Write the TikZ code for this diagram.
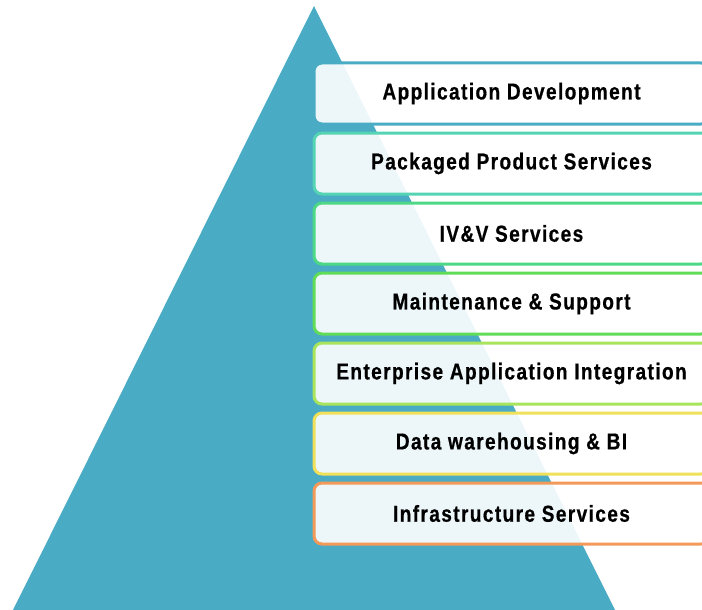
\documentclass[tikz,border=0pt]{standalone}
\usepackage{fontspec}
\usepackage{xcolor}
\usepackage{tikz}
\newfontfamily\layerfont{Liberation Sans}[FakeStretch=0.83, LetterSpace=6, FakeBold=0.6]
\definecolor{pyramid}{HTML}{4AABC5}
\definecolor{aquagreen}{HTML}{55D4B4}
\definecolor{leafgreen}{HTML}{4CD884}
\definecolor{lightgreen}{HTML}{60DC58}
\definecolor{limegreen}{HTML}{A8E45C}
\definecolor{sunyellow}{HTML}{F0E05A}
\definecolor{softorange}{HTML}{F39A5A}
\tikzset {
  % one layer of the stack
  layer/.style = {draw=#1, line width=3pt, rounded corners=8pt,
    fill=white, fill opacity=0.9, text opacity=1,
    minimum width=395pt, minimum height=61pt, inner sep=0pt,
    font=\layerfont\bfseries\fontsize{23}{26}\selectfont},
}

\begin{document}
\begin{tikzpicture}[x=1pt, y=-1pt]
        \useasboundingbox (0, 0) rectangle (702, 610);

        % the pyramid behind the layers
        \fill [pyramid] (314, 6) -- (12, 612) -- (616, 612) -- cycle;

        \node[layer=pyramid] (appdev) at (511.5, 93.5) {Application Development};
        \node[layer=aquagreen] (packaged) at (511.5, 163.5) {Packaged Product Services};
        \node[layer=leafgreen] (ivv) at (511.5, 233.5) {IV\&V Services};
        \node[layer=lightgreen] (maint) at (511.5, 303.5) {Maintenance \& Support};
        \node[layer=limegreen] (eai) at (511.5, 373.5) {Enterprise Application Integration};
        \node[layer=sunyellow] (dwh) at (511.5, 443.5) {Data warehousing \& BI};
        \node[layer=softorange] (infra) at (511.5, 513.5) {Infrastructure Services};
      \end{tikzpicture}
\end{document}
